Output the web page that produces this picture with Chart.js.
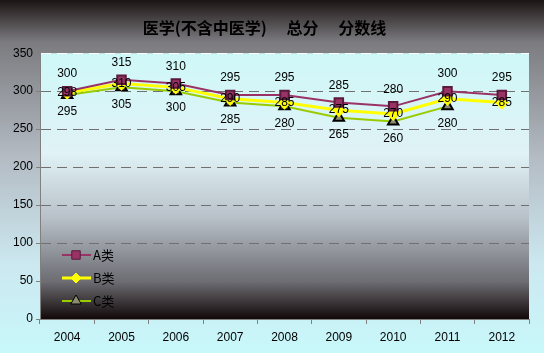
<!DOCTYPE html>
<html>
<head>
<meta charset="utf-8">
<script src="https://cdn.jsdelivr.net/npm/chart.js@4"></script>
<style>
  html, body { margin: 0; padding: 0; }
  #box { width: 544px; height: 353px; }
</style>
</head>
<body>
<div id="box"><canvas id="scoreChart" width="544" height="353"></canvas></div>
<script>
// data
const years = ["2004", "2005", "2006", "2007", "2008", "2009", "2010", "2011", "2012"];
const scoresA = [300, 315, 310, 295, 295, 285, 280, 300, 295];
const scoresB = [298, 310, 305, 290, 285, 275, 270, 290, 285];
const scoresC = [295, 305, 300, 285, 280, 265, 260, 280, null];
const yTicks = [0, 50, 100, 150, 200, 250, 300, 350];

// backgrounds: outer gradient + plot area gradient
const bgPlugin = {
  id: "bg",
  beforeDraw(chart) {
    const ctx = chart.ctx, a = chart.chartArea;
    let g = ctx.createLinearGradient(0, 0, 0, chart.height);
    g.addColorStop(0, "#1c1414");
    g.addColorStop(0.12, "#7c7c80");
    g.addColorStop(0.45, "#b4bcc4");
    g.addColorStop(0.75, "#cce8f0");
    g.addColorStop(1, "#c8f8fa");
    ctx.save();
    ctx.fillStyle = g;
    ctx.fillRect(0, 0, chart.width, chart.height);
    g = ctx.createLinearGradient(0, a.top, 0, a.bottom);
    g.addColorStop(0, "#cff8f8");
    g.addColorStop(0.38, "#e0f2f6");
    g.addColorStop(0.62, "#b8c0c8");
    g.addColorStop(0.86, "#6c6c72");
    g.addColorStop(1, "#120808");
    ctx.fillStyle = g;
    ctx.fillRect(a.left, a.top, a.right - a.left, a.bottom - a.top);
    ctx.restore();
  }
};

// value labels: A above, B on the point, C below
const labelPlugin = {
  id: "vlabels",
  afterDatasetsDraw(chart) {
    const ctx = chart.ctx;
    ctx.save();
    ctx.font = "12px 'Liberation Sans', Arial, sans-serif";
    ctx.fillStyle = "#000";
    ctx.textAlign = "center";
    ctx.textBaseline = "middle";
    const offs = [-17, 0, 17];
    chart.data.datasets.forEach((ds, i) => {
      chart.getDatasetMeta(i).data.forEach((pt, j) => {
        if (ds.data[j] == null) return;
        ctx.fillText(ds.data[j], pt.x, pt.y + offs[i]);
      });
    });
    ctx.restore();
  }
};

// legend drawn inside the plot, bottom left
const legendPlugin = {
  id: "innerLegend",
  afterDraw(chart) {
    const ctx = chart.ctx, a = chart.chartArea;
    ctx.save();
    ctx.font = "13px 'Noto Sans CJK SC', sans-serif";
    ctx.textBaseline = "middle";
    chart.data.datasets.forEach((ds, i) => {
      const y = a.bottom - 64 + i * 23;
      const x = a.left + 22;
      ctx.strokeStyle = ds.borderColor;
      ctx.lineWidth = ds.borderWidth;
      ctx.beginPath();
      ctx.moveTo(x, y);
      ctx.lineTo(x + 29, y);
      ctx.stroke();
      ctx.fillStyle = ds.pointBackgroundColor;
      ctx.strokeStyle = ds.pointBorderColor;
      ctx.lineWidth = 1;
      Chart.helpers.drawPoint(ctx, {
        pointStyle: ds.pointStyle, radius: ds.pointRadius, borderWidth: 1
      }, x + 14, y);
      ctx.fillStyle = "#000";
      ctx.fillText(ds.label, x + 31, y);
    });
    ctx.restore();
  }
};

new Chart("scoreChart", {
  type: "line",
  data: {
    labels: years,
    datasets: [
      {
        label: "A类",
        data: scoresA,
        borderColor: "#993366",
        borderWidth: 2,
        pointStyle: "rect",
        pointRadius: 6,
        pointBackgroundColor: "#993366",
        pointBorderColor: "#5a1a3c"
      },
      {
        label: "B类",
        data: scoresB,
        borderColor: "#ffff00",
        borderWidth: 3,
        pointStyle: "rectRot",
        pointRadius: 5,
        pointBackgroundColor: "#ffff00",
        pointBorderColor: "#ffff00"
      },
      {
        label: "C类",
        data: scoresC,
        borderColor: "#99cc00",
        borderWidth: 2,
        pointStyle: "triangle",
        pointRadius: 6,
        pointBackgroundColor: "#8c8c70",
        pointBorderColor: "#000000"
      }
    ]
  },
  options: {
    responsive: false,
    animation: false,
    layout: { padding: { right: 15, left: 0, bottom: 0 } },
    plugins: {
      legend: { display: false },
      tooltip: { enabled: false },
      title: {
        display: true,
        text: "医学(不含中医学)　 总分　 分数线",
        color: "#000",
        font: { family: "'Noto Sans CJK SC'", size: 16, weight: "bold" },
        padding: { top: 18, bottom: 16 }
      }
    },
    scales: {
      x: {
        offset: true,
        grid: {
          offset: true,
          drawOnChartArea: false,
          drawTicks: true,
          tickLength: 5,
          color: "#808080"
        },
        border: { color: "#808080", width: 1 },
        ticks: {
          color: "#000",
          padding: 6,
          maxRotation: 0,
          font: { family: "'Liberation Sans', Arial, sans-serif", size: 12 }
        },
        afterFit(s) { s.height = 34; }
      },
      y: {
        min: 0,
        max: 350,
        afterBuildTicks(s) { s.ticks = yTicks.map(v => ({ value: v })); },
        grid: {
          color: c => (c.tick && c.tick.value === 350) ? "#ffffff" : "#707070",
          tickColor: "#808080",
          tickLength: 4,
          drawTicks: true
        },
        border: { color: "#808080", width: 1, dash: [10, 6] },
        ticks: {
          color: "#000",
          padding: 3,
          font: { family: "'Liberation Sans', Arial, sans-serif", size: 12 }
        },
        afterFit(s) { s.width = 40; }
      }
    }
  },
  plugins: [bgPlugin, labelPlugin, legendPlugin]
});
</script>
</body>
</html>
